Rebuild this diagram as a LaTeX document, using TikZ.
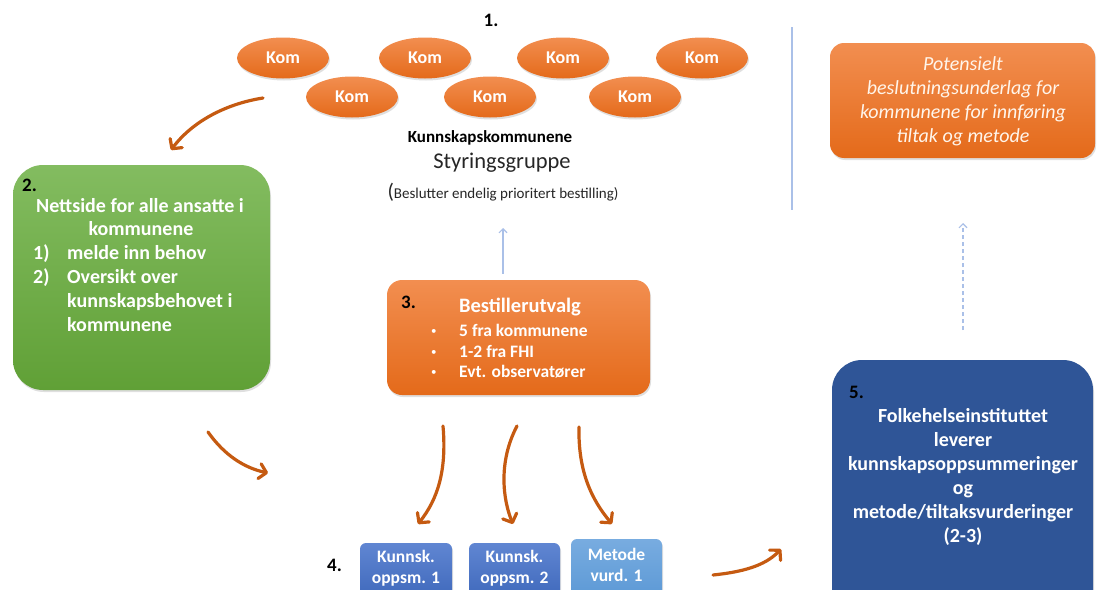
\documentclass[tikz,border=0pt]{standalone}
\usepackage{fontspec}
\setmainfont{Carlito}
\usetikzlibrary{arrows.meta,shadows,shapes.geometric}
\definecolor{orT}{RGB}{242,142,80}
\definecolor{orB}{RGB}{228,106,26}
\definecolor{grT}{RGB}{131,188,96}
\definecolor{grB}{RGB}{96,160,54}
\definecolor{bigblue}{RGB}{47,85,151}
\definecolor{smT}{RGB}{96,134,210}
\definecolor{smB}{RGB}{58,100,184}
\definecolor{mtT}{RGB}{120,172,224}
\definecolor{mtB}{RGB}{88,150,212}
\definecolor{arrc}{RGB}{197,90,17}
\definecolor{thinb}{RGB}{170,192,232}
\tikzset{
  shad/.style={drop shadow={opacity=0.25,shadow xshift=1pt,shadow yshift=-2pt}},
  kom/.style={ellipse,minimum width=92pt,minimum height=41pt,inner sep=0pt,
    top color=orT,bottom color=orB,draw=none,text=white,shad,
    font=\bfseries\fontsize{18}{20}\selectfont},
  obox/.style={rectangle,rounded corners=#1,draw=none,inner sep=0pt,shad},
  wtxt/.style={text=white,inner sep=0pt,text height=14pt,text depth=3pt},
  btxt/.style={text=black,inner sep=0pt,font=\bfseries\fontsize{19}{21}\selectfont},
  oarrow/.style={draw=arrc,line width=3.2pt,line cap=round,
    -{Straight Barb[length=7pt,width=15pt,round]}},
  thinarrow/.style={draw=thinb,line width=1.1pt,-{Straight Barb[length=4pt,width=8pt]}},
}
\begin{document}
\begin{tikzpicture}[x=1pt,y=-1pt]
\useasboundingbox (0,0) rectangle (1097,589);
\clip (0,0) rectangle (1097,589);
\fill[white] (0,0) rectangle (1097,589);

% 1. Kommuner
\node[btxt] (n1) at (491,20) {1.};
\node[kom] (k1) at (283,58) {Kom};
\node[kom] (k2) at (425,58) {Kom};
\node[kom] (k3) at (563,58) {Kom};
\node[kom] (k4) at (702,58) {Kom};
\node[kom] (k5) at (352,97) {Kom};
\node[kom] (k6) at (490,97) {Kom};
\node[kom] (k7) at (635,97) {Kom};
\node[inner sep=0pt,font=\bfseries\fontsize{17}{19}\selectfont] (kk) at (490,138) {Kunnskapskommunene};
\node[inner sep=0pt,font=\fontsize{22.5}{26}\selectfont,text=black!85] (sg) at (502,163) {Styringsgruppe};
\node[inner sep=0pt,font=\fontsize{15}{17}\selectfont,text=black!85] (bes) at (503,192)
  {{\fontsize{21}{22}\selectfont(}Beslutter endelig prioritert bestilling)};

% 2. green box
\node[obox=30pt,top color=grT,bottom color=grB,minimum width=257pt,minimum height=225pt] (b2) at (141.5,277.5) {};
\node[btxt,anchor=west] (n2) at (22,185) {2.};
\begin{scope}[every node/.style={wtxt,font=\bfseries\fontsize{20}{22}\selectfont}]
\node (l1) at (140,207) {Nettside for alle ansatte i};
\node (l2) at (141,230) {kommunene};
\node[anchor=west] (m1) at (33,254) {1)};
\node[anchor=west] (t1) at (67,254) {melde inn behov};
\node[anchor=west] (m2) at (33,278) {2)};
\node[anchor=west] (t2) at (67,278) {Oversikt over};
\node[anchor=west] (t3) at (67,302) {kunnskapsbehovet i};
\node[anchor=west] (t4) at (67,326) {kommunene};
\end{scope}

% 3. Bestillerutvalg
\node[obox=15pt,top color=orT,bottom color=orB,minimum width=263pt,minimum height=115pt] (b3) at (518.5,337.5) {};
\node[btxt,anchor=west] (n3) at (401,302) {3.};
\node[wtxt,font=\bfseries\fontsize{20.5}{22}\selectfont] (bt) at (520,307) {Bestillerutvalg};
\begin{scope}[every node/.style={wtxt,anchor=west,font=\bfseries\fontsize{17.5}{19}\selectfont}]
\node[font=\fontsize{11}{12}\selectfont,text height=8pt,text depth=1pt] (d1) at (431,331) {\textbullet};
\node[font=\fontsize{11}{12}\selectfont,text height=8pt,text depth=1pt] (d2) at (431,352) {\textbullet};
\node[font=\fontsize{11}{12}\selectfont,text height=8pt,text depth=1pt] (d3) at (431,372) {\textbullet};
\node (e1) at (459,331) {5 fra kommunene};
\node (e2) at (459,352) {1-2 fra FHI};
\node (e3) at (459,372) {Evt. observatører};
\end{scope}

% thin arrow up from 3
\coordinate (up3) at (503,228);
\draw[thinarrow] (b3.north -| up3) ++(0,-6) -- (up3);

% vertical separator
\coordinate (vs1) at (792,27);
\coordinate (vs2) at (792,210);
\draw[draw=thinb,line width=1.3pt] (vs1) -- (vs2);

% Potensielt box
\node[obox=14pt,top color=orT,bottom color=orB,minimum width=265pt,minimum height=115pt] (bp) at (962.5,100.5) {};
\node[text=white!92!orange,inner sep=0pt,align=center,font=\itshape\fontsize{20}{24}\selectfont] (pt) at (963,101)
  {Potensielt\\beslutningsunderlag for\\kommunene for innføring\\tiltak og metode};

% 5. FHI box
\node[obox=30pt,fill=bigblue,minimum width=261pt,minimum height=262pt] (b5) at (962.5,491) {};
\node[btxt,anchor=west] (n5) at (849,392) {5.};
\node[text=white,inner sep=0pt,align=center,font=\bfseries\fontsize{20}{24}\selectfont] (ft) at (963,477)
  {Folkehelseinstituttet\\leverer\\kunnskapsoppsummeringer\\og\\metode/tiltaksvurderinger\\(2-3)};

% dashed arrow up from 5
\coordinate (dtop) at (963,223);
\coordinate (dbot) at (963,330);
\draw[thinarrow,dashed,dash pattern=on 4pt off 3pt] (dbot) -- (dtop);

% 4. small boxes
\node[btxt,anchor=west] (n4) at (327,565) {4.};
\node[obox=6pt,top color=smT,bottom color=smB,minimum width=92pt,minimum height=64pt] (s1) at (406,575) {};
\node[obox=6pt,top color=smT,bottom color=smB,minimum width=91pt,minimum height=64pt] (s2) at (514.5,575) {};
\node[obox=6pt,top color=mtT,bottom color=mtB,minimum width=91pt,minimum height=68pt] (s3) at (616.5,573) {};
\begin{scope}[every node/.style={text=white,inner sep=0pt,align=center,font=\bfseries\fontsize{17.5}{21}\selectfont}]
\node (s1t) at (406,568) {Kunnsk.\\oppsm. 1};
\node (s2t) at (514.5,568) {Kunnsk.\\oppsm. 2};
\node (s3t) at (616.5,565) {Metode\\vurd. 1};
\end{scope}

% orange arrows
\coordinate (a1s) at (263,98);   \coordinate (a1e) at (171,150);
\coordinate (a2s) at (208,432);  \coordinate (a2e) at (268,473);
\coordinate (c1s) at (443,426);  \coordinate (c1e) at (418,524);
\coordinate (c2s) at (517,426);  \coordinate (c2e) at (513,524);
\coordinate (c3s) at (579,427);  \coordinate (c3e) at (612,524);
\coordinate (d1s) at (713,575);  \coordinate (d1e) at (781,549);
\draw[oarrow] (a1s) .. controls (225,104) and (192,122) .. (a1e);
\draw[oarrow] (a2s) .. controls (225,456) and (245,468) .. (a2e);
\draw[oarrow] (c1s) .. controls (447,472) and (437,500) .. (c1e);
\draw[oarrow] (c2s) .. controls (498,462) and (503,500) .. (c2e);
\draw[oarrow] (c3s) .. controls (578,472) and (592,500) .. (c3e);
\draw[oarrow] (d1s) .. controls (742,572) and (765,566) .. (d1e);
\end{tikzpicture}
\end{document}
